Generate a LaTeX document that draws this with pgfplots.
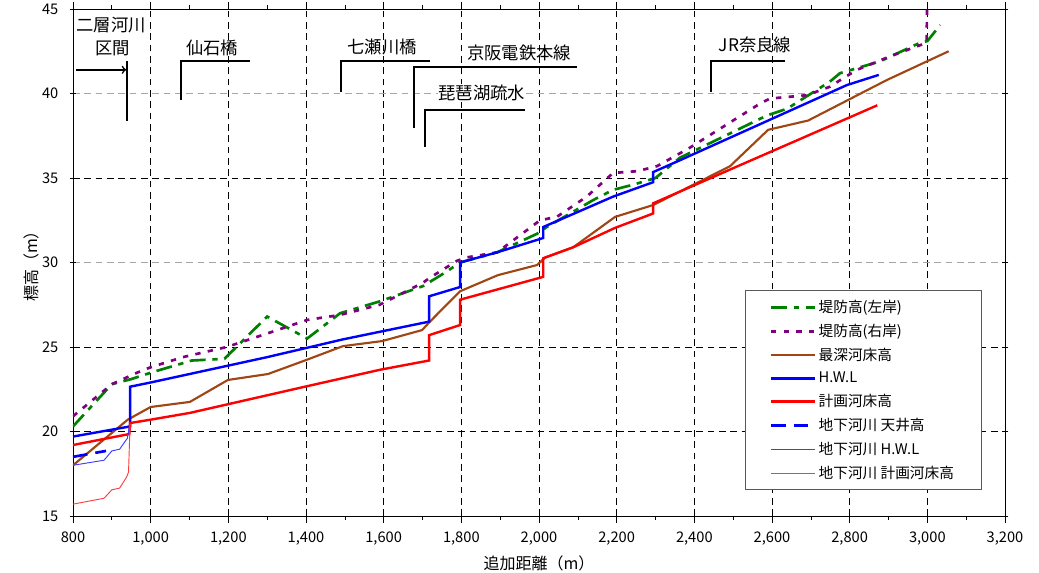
\documentclass[border=0pt]{standalone}
\usepackage{fontspec}
\setmainfont{Noto Sans CJK JP}
\usepackage{pgfplots}
\pgfplotsset{compat=1.18}
\definecolor{cgreen}{RGB}{0,128,0}
\definecolor{cpurple}{RGB}{128,0,128}
\definecolor{cbrown}{RGB}{160,70,20}
\definecolor{cblue}{RGB}{0,0,255}
\definecolor{cred}{RGB}{255,0,0}
\definecolor{cblueL}{RGB}{60,60,255}
\definecolor{credL}{RGB}{255,60,60}
\begin{document}
\begin{tikzpicture}
\begin{axis}[
  name=ax, at={(0,0)}, anchor=south west,
  scale only axis, width=699pt, height=380.25pt,
  xmin=800, xmax=3200, ymin=15, ymax=45,
  xtick={800,1000,...,3200}, minor x tick num=1,
  ytick={15,20,25,35,45}, minor y tick num=4,
  extra y ticks={30,40},
  extra y tick style={grid style={gray!70, dash pattern=on 5pt off 3.5pt, line width=0.8pt}},
  grid=major,
  grid style={black, dash pattern=on 5pt off 3.5pt, line width=0.5pt},
  axis line style={black, line width=0.6pt},
  tick style={black, line width=0.5pt},
  xtick align=outside, ytick align=center,
  major tick length=5pt, minor tick length=3pt,
  tick label style={font=\fontsize{11}{13}\selectfont},
  yticklabel style={xshift=-5pt},
  xticklabel style={yshift=-3pt},
  /pgf/number format/assume math mode=true,
  /pgf/number format/.cd, 1000 sep={,},
  /pgfplots/.cd,
  xlabel={追加距離（m）}, ylabel={標高（m）},
  label style={font=\fontsize{12}{14}\selectfont},
  xlabel style={yshift=-1.5pt},
  ylabel style={yshift=-9.5pt},
  legend style={at={(0.975,0.051)}, anchor=south east, draw=gray!70!black, line width=0.6pt,
    font=\fontsize{11}{13}\selectfont, row sep=3.2pt, inner xsep=18.5pt, inner ysep=5pt,
    cells={anchor=west}},
  legend image code/.code={\draw[#1] (0cm,0cm) -- (1.15cm,0cm);},
]
% 堤防高(左岸)
\addplot[cgreen, line width=2pt, dash pattern=on 12pt off 5pt on 4pt off 5pt] coordinates {
(800,20.3) (900,22.8) (950,23.1) (1003,23.5) (1106,24.2) (1190,24.3) (1300,26.8) (1403,25.5)
(1488,27.0) (1590,27.7) (1701,28.6) (1758,29.4) (1797,30.0) (1892,30.6) (1995,31.7) (2020,32.1)
(2140,33.7) (2191,34.3) (2242,34.6) (2300,35.0) (2363,36.2) (2587,38.7) (2639,39.1) (2749,40.7)
(2775,41.2) (2878,41.9) (2981,43.0) (3000,43.1) (3033,44.05)};
\addlegendentry{堤防高(左岸)}
% 堤防高(右岸)
\addplot[cpurple, line width=2pt, dash pattern=on 4pt off 5.5pt] coordinates {
(800,20.9) (900,22.8) (967,23.5) (1000,23.8) (1083,24.4) (1196,25.0) (1300,25.8) (1403,26.6)
(1488,26.9) (1590,27.5) (1701,28.8) (1719,29.1) (1789,30.1) (1814,30.3) (1892,30.6) (2003,32.5)
(2046,32.7) (2123,33.9) (2191,35.3) (2252,35.4) (2304,35.7) (2389,36.8) (2569,39.4) (2595,39.7)
(2690,39.9) (2749,40.4) (2783,40.9) (2819,41.4) (2904,42.2) (2963,42.7) (2998,43.0) (3000,46)};
\addlegendentry{堤防高(右岸)}
% 最深河床高
\addplot[cbrown, line width=1.6pt] coordinates {
(800,18.0) (941,20.7) (1000,21.45) (1101,21.75) (1199,23.05) (1302,23.4) (1397,24.2) (1495,25.05)
(1596,25.35) (1699,26.0) (1719,26.5) (1797,28.3) (1894,29.25) (1995,29.85) (2016,30.3) (2088,30.9)
(2196,32.7) (2294,33.4) (2492,35.7) (2590,37.85) (2693,38.4) (2896,40.8) (3055,42.5)};
\addlegendentry{最深河床高}
% H.W.L
\addplot[cblue, line width=1.8pt] coordinates {
(800,19.7) (947,20.3) (947,22.65) (1000,22.9) (1300,24.4) (1495,25.45) (1717,26.5) (1717,28.0)
(1797,28.55) (1797,30.0) (1892,30.6) (2011,31.45) (2011,32.1) (2191,33.9) (2294,34.75) (2294,35.35)
(2363,36.05) (2793,40.5) (2875,41.1)};
\addlegendentry{H.W.L}
% 計画河床高
\addplot[cred, line width=1.8pt] coordinates {
(800,19.2) (945,19.85) (947,20.5) (1000,20.7) (1101,21.1) (1397,22.65) (1590,23.65) (1717,24.2)
(1717,25.7) (1797,26.3) (1797,27.8) (2011,29.15) (2011,30.25) (2088,30.9) (2196,32.05) (2294,32.9)
(2294,33.5) (2492,35.5) (2871,39.3)};
\addlegendentry{計画河床高}
% 地下河川 天井高
\addplot[cblue, line width=2pt, dash pattern=on 11pt off 6pt] coordinates {
(800,18.5) (885,18.85)};
\addlegendentry{地下河川 天井高}
% 地下河川 H.W.L
\addplot[cblueL, line width=0.7pt] coordinates {
(800,18.0) (880,18.3) (900,18.85) (920,18.95) (940,19.6) (945,20.3)};
\addlegendentry{地下河川 H.W.L}
% 地下河川 計画河床高
\addplot[credL, line width=0.7pt] coordinates {
(800,15.7) (880,16.05) (900,16.55) (920,16.65) (938,17.3) (943,17.6) (947,20.45)};
\addlegendentry{地下河川 計画河床高}
% annotations
\begin{scope}[line width=1.5pt, black]
\node[font=\fontsize{13}{15}\selectfont] at (axis cs:898,44.05) {二層河川};
\node[font=\fontsize{13}{15}\selectfont] at (axis cs:903,42.7) {区間};
\draw[->, line width=1.2pt] (axis cs:808,41.4) -- (axis cs:937,41.4);
\draw (axis cs:939,41.9) -- (axis cs:939,38.4);
\node[font=\fontsize{13}{15}\selectfont] at (axis cs:1158,42.7) {仙石橋};
\draw (axis cs:1078,39.6) -- (axis cs:1078,41.92) -- (axis cs:1256,41.92);
\node[font=\fontsize{13}{15}\selectfont] at (axis cs:1596,42.75) {七瀬川橋};
\draw (axis cs:1490,40.1) -- (axis cs:1490,41.92) -- (axis cs:1719,41.92);
\node[font=\fontsize{13}{15}\selectfont] at (axis cs:1949,42.4) {京阪電鉄本線};
\draw (axis cs:1678,37.96) -- (axis cs:1678,41.57) -- (axis cs:2098,41.57);
\node[font=\fontsize{13}{15}\selectfont, fill=white, inner sep=0.5pt] at (axis cs:1853,40.03) {琵琶湖疏水};
\draw (axis cs:1706,36.83) -- (axis cs:1706,39.02) -- (axis cs:1964,39.02);
\node[font=\fontsize{13}{15}\selectfont] at (axis cs:2556,42.87) {JR奈良線};
\draw (axis cs:2443,40.1) -- (axis cs:2443,41.9) -- (axis cs:2634,41.9);
\end{scope}
\end{axis}
\pgfresetboundingbox
\path (ax.south west) ++(-54.75pt,-42.75pt) rectangle ++(779.25pt,429.75pt);
\end{tikzpicture}
\end{document}
